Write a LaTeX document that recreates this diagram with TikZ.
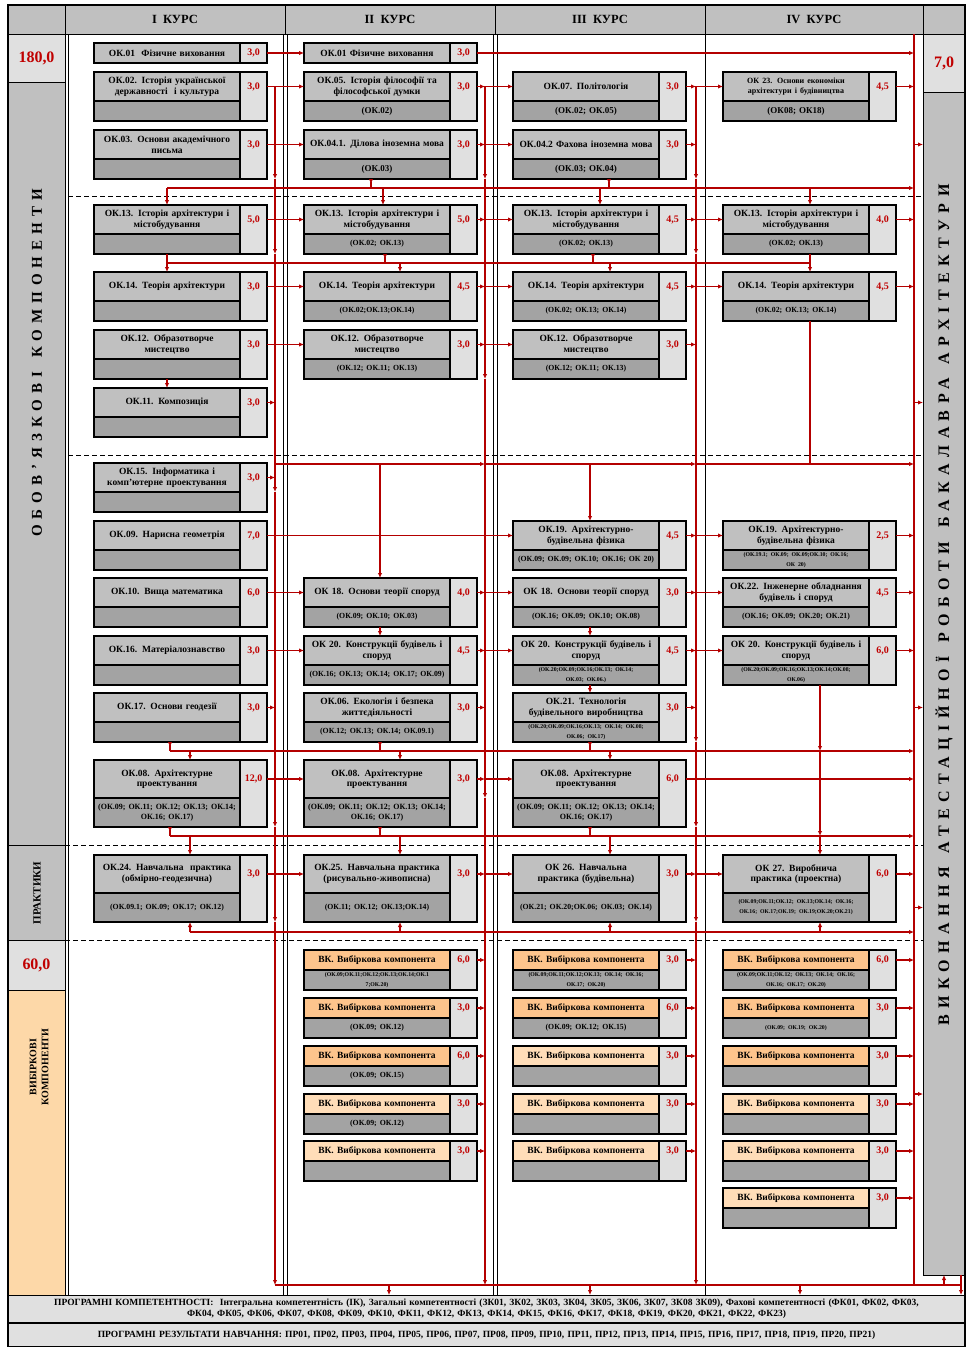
\documentclass[tikz,border=0pt]{standalone}
\usepackage{fontspec}
\setmainfont{Liberation Serif}
\usetikzlibrary{arrows.meta}

\definecolor{ttlgray}{HTML}{C0C0C0}
\definecolor{reqgray}{HTML}{A3A3A3}
\definecolor{crdgray}{HTML}{E0E0E0}
\definecolor{hdgray}{HTML}{C0C0C0}
\definecolor{vkdark}{HTML}{FDC48C}
\definecolor{vklight}{HTML}{FFDDB8}
\definecolor{peach}{HTML}{FDD8A8}
\definecolor{accred}{HTML}{C00000}
\definecolor{linered}{HTML}{B40000}

\newcommand{\reqbig}{\fontsize{8}{9}\selectfont}
\newcommand{\reqmid}{\fontsize{7.8}{8.8}\selectfont}
\newcommand{\reqsmall}{\fontsize{5.8}{6.4}\selectfont}

% one course box: title / prerequisites / credits
\newcommand{\okbox}[9][ttl]{%
  \node[#1, anchor=north west, minimum height=#5pt] (#2) at (#3,#4) {#7};
  \node[req, anchor=north west, minimum height=#6pt] (#2r) at (#2.south west) {#8};
  \node[crd, anchor=north west, minimum height=#5pt+#6pt] (#2c) at (#2.north east) {};
  \node[crtxt] (#2k) at (#2c.center |- #2.center) {#9};
  \coordinate (#2o) at (#2c.east |- #2.center);
}

\begin{document}
\begin{tikzpicture}[x=1pt, y=-1pt]
\tikzset{
  ttl/.style={draw, line width=1.1pt, fill=ttlgray, text width=140pt, align=center,
    inner xsep=3pt, inner ysep=0pt, outer sep=0pt, font=\fontsize{9.5}{10.5}\selectfont\bfseries},
  vkd/.style={ttl, fill=vkdark},
  vkl/.style={ttl, fill=vklight},
  req/.style={draw, line width=1.1pt, fill=reqgray, text width=140pt, align=center,
    inner xsep=3pt, inner ysep=0pt, outer sep=0pt, font=\fontsize{9}{10}\selectfont\bfseries},
  crd/.style={draw, line width=1.1pt, fill=crdgray, minimum width=27pt, inner sep=0pt, outer sep=0pt},
  crtxt/.style={text=accred, font=\fontsize{10}{12}\selectfont\bfseries, inner sep=0pt},
  boxcell/.style={draw, line width=1pt, inner sep=0pt, outer sep=0pt, anchor=north west},
  hd/.style={boxcell, fill=hdgray, font=\fontsize{12.5}{14}\selectfont\bfseries},
  sumcell/.style={boxcell, fill=crdgray, text=accred, font=\fontsize{16}{18}\selectfont\bfseries},
  vtext/.style={rotate=90, inner sep=0pt,
    font=\fontsize{15}{18}\selectfont\bfseries\addfontfeature{LetterSpace=40}},
  vtextwide/.style={rotate=90, inner sep=0pt,
    font=\fontsize{16}{18}\selectfont\bfseries\addfontfeature{LetterSpace=40}},
  colline/.style={line width=0.9pt},
  cutline/.style={line width=0.8pt, dash pattern=on 5pt off 3pt},
  redline/.style={draw=linered, line width=1.1pt},
  link/.style={redline, -{Latex[length=5pt,width=4.5pt]}},
  drop/.style={redline, {Latex[length=5pt,width=4.5pt,reversed]}-}
}
\useasboundingbox (0,0) rectangle (969,1347);
\fill[white] (0,0) rectangle (969,1347);

% --- header row ---
\node[hd, minimum width=57pt, minimum height=29pt] (h0) at (8,5) {};
\node[hd, minimum width=220pt, minimum height=29pt] (h1) at (65,5) {I\ \ КУРС};
\node[hd, minimum width=210pt, minimum height=29pt] (h2) at (285,5) {II\ \ КУРС};
\node[hd, minimum width=210pt, minimum height=29pt] (h3) at (495,5) {III\ \ КУРС};
\node[hd, minimum width=218pt, minimum height=29pt] (h4) at (705,5) {IV\ \ КУРС};
\node[hd, minimum width=42pt, minimum height=29pt] (h5) at (923,5) {};

% --- left column ---
\node[sumcell, minimum width=57pt, minimum height=48pt] (s180) at (8,34) {180,0};
\node[boxcell, fill=hdgray, minimum width=57pt, minimum height=763pt] (oblig) at (8,82) {};
\node[boxcell, fill=hdgray, minimum width=57pt, minimum height=95pt] (prac) at (8,845) {};
\node[sumcell, minimum width=57pt, minimum height=50pt] (s60) at (8,940) {60,0};
\node[boxcell, fill=peach, minimum width=57pt, minimum height=305pt] (elect) at (8,990) {};
\node[vtext] (obligt) at (37,363) {ОБОВ'ЯЗКОВІ\hspace{14pt}КОМПОНЕНТИ};
\node[rotate=90, inner sep=0pt, font=\fontsize{11}{12}\selectfont\bfseries] (pract) at (37,893) {ПРАКТИКИ};
\node[rotate=90, inner sep=0pt, align=center, font=\fontsize{10}{12}\selectfont\bfseries] (electt) at (39,1067) {ВИБІРКОВІ\\ КОМПОНЕНТИ};

% --- right column ---
\node[sumcell, minimum width=42pt, minimum height=58pt] (s7) at (923,34) {7,0};
\node[boxcell, fill=hdgray, minimum width=42pt, minimum height=1183pt] (atest) at (923,92) {};
\node[vtextwide] (atestt) at (944,605) {ВИКОНАННЯ\hspace{14pt}АТЕСТАЦІЙНОЇ\hspace{14pt}РОБОТИ\hspace{14pt}БАКАЛАВРА\hspace{14pt}АРХІТЕКТУРИ};

% --- bottom bands ---
\node[boxcell, fill=crdgray, minimum height=27pt, text width=945pt, inner xsep=6pt, align=center,
  font=\fontsize{9.5}{10.5}\selectfont\bfseries] (band1) at (8,1295)
  {ПРОГРАМНІ КОМПЕТЕНТНОСТІ:\ \ Інтегральна компетентність (ІК), Загальні компетентності (ЗК01, ЗК02, ЗК03, ЗК04, ЗК05, ЗК06, ЗК07, ЗК08 ЗК09), Фахові компетентності (ФК01, ФК02, ФК03,\\ ФК04, ФК05, ФК06, ФК07, ФК08, ФК09, ФК10, ФК11, ФК12, ФК13, ФК14, ФК15, ФК16, ФК17, ФК18, ФК19, ФК20, ФК21, ФК22, ФК23)};
\node[boxcell, fill=crdgray, minimum height=24pt, text width=945pt, inner xsep=6pt, align=center,
  font=\fontsize{9.5}{10.5}\selectfont\bfseries] (band2) at (8,1323)
  {ПРОГРАМНІ РЕЗУЛЬТАТИ НАВЧАННЯ: ПР01, ПР02, ПР03, ПР04, ПР05, ПР06, ПР07, ПР08, ПР09, ПР10, ПР11, ПР12, ПР13, ПР14, ПР15, ПР16, ПР17, ПР18, ПР19, ПР20, ПР21)};

% --- column rules and dashed separators ---
\draw[colline] (68,34) -- (68,1295);
\draw[colline] (283,34) -- (283,1295);
\draw[colline] (287,34) -- (287,1295);
\draw[colline] (493,34) -- (493,1295);
\draw[colline] (497,34) -- (497,1295);
\draw[colline] (705,34) -- (705,1295);
\draw[cutline] (68,196) -- (923,196);
\draw[cutline] (68,455) -- (923,455);
\draw[cutline] (65,845) -- (923,845);
\draw[cutline] (65,940) -- (923,940);

% --- I курс ---
\okbox{a01}{94}{43}{20}{0}{ОК.01\ \ Фізичне виховання}{}{3,0}
\okbox{a02}{94}{72}{29}{20}{ОК.02. Історія української\\ державності\ \ і культура}{}{3,0}
\okbox{a03}{94}{130}{29}{20}{ОК.03. Основи академічного\\ письма}{}{3,0}
\okbox{a13}{94}{205}{29}{20}{ОК.13. Історія архітектури і\\ містобудування}{}{5,0}
\okbox{a14}{94}{272}{29}{20}{ОК.14. Теорія архітектури}{}{3,0}
\okbox{a12}{94}{330}{29}{20}{ОК.12. Образотворче\\ мистецтво}{}{3,0}
\okbox{a11}{94}{388}{29}{20}{ОК.11. Композиція}{}{3,0}
\okbox{a15}{94}{463}{29}{20}{ОК.15. Інформатика і\\ комп'ютерне проектування}{}{3,0}
\okbox{a09}{94}{521}{29}{20}{ОК.09. Нарисна геометрія}{}{7,0}
\okbox{a10}{94}{578}{29}{20}{ОК.10. Вища математика}{}{6,0}
\okbox{a16}{94}{636}{29}{20}{ОК.16. Матеріалознавство}{}{3,0}
\okbox{a17}{94}{693}{29}{20}{ОК.17. Основи геодезії}{}{3,0}
\okbox{a08}{94}{760}{38}{29}{ОК.08. Архітектурне\\ проектування}{\reqbig(ОК.09; ОК.11; ОК.12; ОК.13; ОК.14;\\ ОК.16; ОК.17)}{12,0}
\okbox{a24}{94}{855}{38}{29}{ОК.24. Навчальна\ \ практика\\ (обмірно-геодезична)}{\reqmid(ОК.09.1; ОК.09; ОК.17; ОК.12)}{3,0}

% --- II курс ---
\okbox{b01}{304}{43}{20}{0}{ОК.01 Фізичне виховання}{}{3,0}
\okbox{b05}{304}{72}{29}{20}{ОК.05. Історія філософії та\\ філософської думки}{(ОК.02)}{3,0}
\okbox{b041}{304}{130}{29}{20}{ОК.04.1. Ділова іноземна мова}{(ОК.03)}{3,0}
\okbox{b13}{304}{205}{29}{20}{ОК.13. Історія архітектури і\\ містобудування}{\reqmid(ОК.02; ОК.13)}{5,0}
\okbox{b14}{304}{272}{29}{20}{ОК.14. Теорія архітектури}{\reqmid(ОК.02;ОК.13;ОК.14)}{4,5}
\okbox{b12}{304}{330}{29}{20}{ОК.12. Образотворче\\ мистецтво}{\reqmid(ОК.12; ОК.11; ОК.13)}{3,0}
\okbox{b18}{304}{578}{29}{20}{ОК 18. Основи теорії споруд}{\reqmid(ОК.09; ОК.10; ОК.03)}{4,0}
\okbox{b20}{304}{636}{29}{20}{ОК 20. Конструкції будівель і\\ споруд}{\reqmid(ОК.16; ОК.13; ОК.14; ОК.17; ОК.09)}{4,5}
\okbox{b06}{304}{693}{29}{20}{ОК.06. Екологія і безпека\\ життєдіяльності}{\reqmid(ОК.12; ОК.13; ОК.14; ОК.09.1)}{3,0}
\okbox{b08}{304}{760}{38}{29}{ОК.08. Архітектурне\\ проектування}{\reqbig(ОК.09; ОК.11; ОК.12; ОК.13; ОК.14;\\ ОК.16; ОК.17)}{3,0}
\okbox{b25}{304}{855}{38}{29}{ОК.25. Навчальна практика\\ (рисувально-живописна)}{\reqmid(ОК.11; ОК.12; ОК.13;ОК.14)}{3,0}
\okbox[vkd]{bv1}{304}{950}{20}{20}{ВК. Вибіркова компонента}{\reqsmall(ОК.09;ОК.11;ОК.12;ОК.13;ОК.14;ОК.1\\7;ОК.20)}{6,0}
\okbox[vkd]{bv2}{304}{998}{20}{20}{ВК. Вибіркова компонента}{\reqmid(ОК.09; ОК.12)}{3,0}
\okbox[vkd]{bv3}{304}{1046}{20}{20}{ВК. Вибіркова компонента}{\reqmid(ОК.09; ОК.15)}{6,0}
\okbox[vkl]{bv4}{304}{1094}{20}{20}{ВК. Вибіркова компонента}{\reqmid(ОК.09; ОК.12)}{3,0}
\okbox[vkl]{bv5}{304}{1141}{20}{20}{ВК. Вибіркова компонента}{}{3,0}

% --- III курс ---
\okbox{c07}{513}{72}{29}{20}{ОК.07. Політологія}{(ОК.02; ОК.05)}{3,0}
\okbox{c042}{513}{130}{29}{20}{ОК.04.2 Фахова іноземна мова}{(ОК.03; ОК.04)}{3,0}
\okbox{c13}{513}{205}{29}{20}{ОК.13. Історія архітектури і\\ містобудування}{\reqmid(ОК.02; ОК.13)}{4,5}
\okbox{c14}{513}{272}{29}{20}{ОК.14. Теорія архітектури}{\reqmid(ОК.02; ОК.13; ОК.14)}{4,5}
\okbox{c12}{513}{330}{29}{20}{ОК.12. Образотворче\\ мистецтво}{\reqmid(ОК.12; ОК.11; ОК.13)}{3,0}
\okbox{c19}{513}{521}{29}{20}{ОК.19. Архітектурно-\\ будівельна фізика}{\reqmid(ОК.09; ОК.09; ОК.10; ОК.16; ОК 20)}{4,5}
\okbox{c18}{513}{578}{29}{20}{ОК 18. Основи теорії споруд}{\reqmid(ОК.16; ОК.09; ОК.10; ОК.08)}{3,0}
\okbox{c20}{513}{636}{29}{20}{ОК 20. Конструкції будівель і\\ споруд}{\reqsmall(ОК.20;ОК.09;ОК.16;ОК.13; ОК.14;\\ ОК.03; ОК.06.)}{4,5}
\okbox{c21}{513}{693}{29}{20}{ОК.21. Технологія\\ будівельного виробництва}{\reqsmall(ОК.20;ОК.09;ОК.16;ОК.13; ОК.14; ОК.08;\\ ОК.06; ОК.17)}{3,0}
\okbox{c08}{513}{760}{38}{29}{ОК.08. Архітектурне\\ проектування}{\reqbig(ОК.09; ОК.11; ОК.12; ОК.13; ОК.14;\\ ОК.16; ОК.17)}{6,0}
\okbox{c26}{513}{855}{38}{29}{ОК 26. Навчальна\\ практика (будівельна)}{\reqmid(ОК.21; ОК.20;ОК.06; ОК.03; ОК.14)}{3,0}
\okbox[vkd]{cv1}{513}{950}{20}{20}{ВК. Вибіркова компонента}{\reqsmall(ОК.09;ОК.11;ОК.12;ОК.13; ОК.14; ОК.16;\\ ОК.17; ОК.20)}{3,0}
\okbox[vkd]{cv2}{513}{998}{20}{20}{ВК. Вибіркова компонента}{\reqmid(ОК.09; ОК.12; ОК.15)}{6,0}
\okbox[vkl]{cv3}{513}{1046}{20}{20}{ВК. Вибіркова компонента}{}{3,0}
\okbox[vkl]{cv4}{513}{1094}{20}{20}{ВК. Вибіркова компонента}{}{3,0}
\okbox[vkl]{cv5}{513}{1141}{20}{20}{ВК. Вибіркова компонента}{}{3,0}

% --- IV курс ---
\okbox{d23}{723}{72}{29}{20}{\fontsize{8}{9}\selectfont ОК 23. Основи економіки\\ архітектури і будівництва}{(ОК08; ОК18)}{4,5}
\okbox{d13}{723}{205}{29}{20}{ОК.13. Історія архітектури і\\ містобудування}{\reqmid(ОК.02; ОК.13)}{4,0}
\okbox{d14}{723}{272}{29}{20}{ОК.14. Теорія архітектури}{\reqmid(ОК.02; ОК.13; ОК.14)}{4,5}
\okbox{d19}{723}{521}{29}{20}{ОК.19. Архітектурно-\\ будівельна фізика}{\reqsmall(ОК.19.1; ОК.09; ОК.09;ОК.10; ОК.16;\\ ОК 20)}{2,5}
\okbox{d22}{723}{578}{29}{20}{ОК.22. Інженерне обладнання\\ будівель і споруд}{\reqmid(ОК.16; ОК.09; ОК.20; ОК.21)}{4,5}
\okbox{d20}{723}{636}{29}{20}{ОК 20. Конструкції будівель і\\ споруд}{\reqsmall(ОК.20;ОК.09;ОК.16;ОК.13;ОК.14;ОК.08;\\ ОК.06)}{6,0}
\okbox{d27}{723}{855}{38}{29}{ОК 27. Виробнича\\ практика (проектна)}{\reqsmall(ОК.09;ОК.11;ОК.12; ОК.13;ОК.14; ОК.16;\\ ОК.16; ОК.17;ОК.19; ОК.19;ОК.20;ОК.21)}{6,0}
\okbox[vkd]{dv1}{723}{950}{20}{20}{ВК. Вибіркова компонента}{\reqsmall(ОК.09;ОК.11;ОК.12; ОК.13; ОК.14; ОК.16;\\ ОК.16; ОК.17; ОК.20)}{6,0}
\okbox[vkd]{dv2}{723}{998}{20}{20}{ВК. Вибіркова компонента}{\reqsmall(ОК.09; ОК.19; ОК.20)}{3,0}
\okbox[vkd]{dv3}{723}{1046}{20}{20}{ВК. Вибіркова компонента}{}{3,0}
\okbox[vkl]{dv4}{723}{1094}{20}{20}{ВК. Вибіркова компонента}{}{3,0}
\okbox[vkl]{dv5}{723}{1141}{20}{20}{ВК. Вибіркова компонента}{}{3,0}
\okbox[vkl]{dv6}{723}{1188}{20}{20}{ВК. Вибіркова компонента}{}{3,0}

% --- buses and cross lines ---
\coordinate (busA) at (275,86);
\coordinate (busB) at (485,86);
\coordinate (busC) at (696,86);
\coordinate (busD) at (914,34);
\coordinate (L1) at (0,188);
\coordinate (L2) at (0,263);
\coordinate (L3) at (0,464);
\coordinate (L4) at (0,751);
\coordinate (L5) at (0,836);
\coordinate (L6) at (0,932);
\coordinate (L7) at (0,1285);

\draw[link] (busA) -- (a03r.south -| busA);
\draw[link] (a03r.south -| busA) -- (a13r.south -| busA);
\draw[link] (a13r.south -| busA) -- (a15r.north -| busA);
\draw[link] (a15r.north -| busA) -- (a08r.south -| busA);
\draw[link] (a08r.south -| busA) -- (a24r.south -| busA);
\draw[link] (a24r.south -| busA) -- (L7 -| busA);
\draw[link] (busB) -- (b041r.south -| busB);
\draw[link] (b041r.south -| busB) -- (b12r.south -| busB);
\draw[link] (b12r.south -| busB) -- (b08.south -| busB);
\draw[link] (b08.south -| busB) -- (L7 -| busB);
\draw[link] (busC) -- (c042r.south -| busC);
\draw[link] (c042r.south -| busC) -- (c13r.south -| busC);
\draw[link] (c13r.south -| busC) -- (c21r.south -| busC);
\draw[link] (c21r.south -| busC) -- (c08r.south -| busC);
\draw[link] (c08r.south -| busC) -- (c26r.south -| busC);
\draw[link] (c26r.south -| busC) -- (L7 -| busC);
\draw[redline] (busD) -- (L7 -| busD);

% row 1-3
\draw[link] (a01o) -- (b01.west);
\draw[link] (b01o) -- (b01o -| busD);
\draw[link] (a02o) -- (b05.west);
\draw[link] (b05o) -- (b05o -| busB);
\draw[link] (b05o -| busB) -- (c07.west);
\draw[link] (c07o) -- (c07o -| busC);
\draw[link] (c07o -| busC) -- (d23.west);
\draw[link] (d23o) -- (d23o -| busD);
\draw[link] (a03o) -- (b041.west);
\draw[link] (b041o) -- (b041o -| busB);
\draw[link] (b041o -| busB) -- (c042.west);
\draw[link] (c042o) -- (c042o -| busC);

% line under row 3
\draw[link] (a13.north |- L1) -- (L1 -| busD);
\draw[link] (a13.north |- L1) -- (a13.north);
\draw[drop] ([xshift=-6pt]b041r.south) -- ([xshift=-6pt]b041r.south |- L1);
\draw[link] ([xshift=6pt]b13.north |- L1) -- ([xshift=6pt]b13.north);
\draw[drop] ([xshift=23pt]c042r.south) -- ([xshift=23pt]c042r.south |- L1);
\draw[link] ([xshift=14pt]c13.north |- L1) -- ([xshift=14pt]c13.north);
\draw[link] ([xshift=14pt]d13.north |- L1) -- ([xshift=14pt]d13.north);

% row 4-5
\draw[link] (a13o) -- (b13.west);
\draw[link] (b13o) -- (b13o -| busB);
\draw[link] (b13o -| busB) -- (c13.west);
\draw[link] (c13o) -- (c13o -| busC);
\draw[link] (c13o -| busC) -- (d13.west);
\draw[link] (d13o) -- (d13o -| busD);
\draw[redline] (a13r.south) -- (a13r.south |- L2) -- ([xshift=14pt]d13r.south |- L2);
\draw[link] (a13r.south |- L2) -- (a14.north);
\draw[drop] ([xshift=8pt]b13r.south) -- ([xshift=8pt]b13r.south |- L2);
\draw[link] ([xshift=23pt]b14.north |- L2) -- ([xshift=23pt]b14.north);
\draw[drop] ([xshift=7pt]c13r.south) -- ([xshift=7pt]c13r.south |- L2);
\draw[link] ([xshift=24pt]c14.north |- L2) -- ([xshift=24pt]c14.north);
\draw[link] ([xshift=14pt]d13r.south) -- ([xshift=14pt]d14.north);
\draw[link] (a14o) -- (b14.west);
\draw[link] (b14o) -- (b14o -| busB);
\draw[link] (b14o -| busB) -- (c14.west);
\draw[link] (c14o) -- (c14o -| busC);
\draw[link] (c14o -| busC) -- (d14.west);
\draw[link] (d14o) -- (d14o -| busD);
\draw[redline] ([xshift=14pt]d14r.south) -- ([xshift=14pt]d14r.south |- L3);

% row 6-8
\draw[link] (a12o) -- (b12.west);
\draw[link] (b12o) -- (b12o -| busB);
\draw[link] (b12o -| busB) -- (c12.west);
\draw[link] (c12o) -- (c12o -| busC);
\draw[link] (a12r.south) -- (a11.north);
\draw[link] (a11o) -- (a11o -| busA);
\draw[link] (a15o) -- (a15o -| busA);

% line under the dashed rule
\draw[link] (L3 -| busA) -- (L3 -| busB);
\draw[link] (L3 -| busB) -- (L3 -| busC);
\draw[link] (L3 -| busC) -- (L3 -| busD);
\draw[link] ([xshift=3pt]b18.north |- L3) -- ([xshift=3pt]b18.north);
\draw[link] ([xshift=4pt]c19.north |- L3) -- ([xshift=4pt]c19.north);

% row 9-11
\draw[link] (a09o) -- (c19.west);
\draw[link] (c19o) -- (c19o -| busC);
\draw[link] (c19o -| busC) -- (d19.west);
\draw[link] (d19o) -- (d19o -| busD);
\draw[link] (a10o) -- (b18.west);
\draw[link] (b18o) -- (b18o -| busB);
\draw[link] (b18o -| busB) -- (c18.west);
\draw[link] (c18o) -- (c18o -| busC);
\draw[link] (c18o -| busC) -- (d22.west);
\draw[link] (d22o) -- (d22o -| busD);
\draw[link] ([xshift=3pt]b18r.south) -- ([xshift=3pt]b20.north);
\draw[link] ([xshift=4pt]c18r.south) -- ([xshift=4pt]c20.north);
\draw[link] (a16o) -- (b20.west);
\draw[link] (b20o) -- (b20o -| busB);
\draw[link] (b20o -| busB) -- (c20.west);
\draw[link] (c20o) -- (c20o -| busC);
\draw[link] (c20o -| busC) -- (d20.west);
\draw[link] (d20o) -- (d20o -| busD);
\draw[link] ([xshift=4pt]c20r.south) -- ([xshift=4pt]c21.north);
\draw[link] ([xshift=24pt]d20r.south) -- ([xshift=24pt]d20r.south |- L4);
\draw[link] ([xshift=24pt]d20r.south |- L4) -- ([xshift=24pt]d20r.south |- L5);
\draw[link] ([xshift=24pt]d20r.south |- L5) -- ([xshift=24pt]d27.north);

% row 12-13
\draw[link] (a17o) -- (a17o -| busA);
\draw[link] (b06o) -- (b06o -| busB);
\draw[link] (c21o) -- (c21o -| busC);
\draw[link] ([xshift=3pt]a17r.south |- L4) -- (L4 -| busD);
\draw[drop] ([xshift=3pt]a17r.south) -- ([xshift=3pt]a17r.south |- L4);
\draw[drop] ([xshift=3pt]b06r.south) -- ([xshift=3pt]b06r.south |- L4);
\draw[drop] ([xshift=4pt]c21r.south) -- ([xshift=4pt]c21r.south |- L4);
\draw[link] ([xshift=23pt]a08.north |- L4) -- ([xshift=23pt]a08.north);
\draw[link] ([xshift=23pt]b08.north |- L4) -- ([xshift=23pt]b08.north);
\draw[link] ([xshift=24pt]c08.north |- L4) -- ([xshift=24pt]c08.north);
\draw[link] (a08o) -- (b08.west);
\draw[link] (b08o) -- (b08o -| busB);
\draw[link] (b08o -| busB) -- (c08.west);
\draw[link] (c08o) -- (c08o -| busD);

% practices
\draw[link] ([xshift=3pt]a08r.south |- L5) -- (L5 -| busD);
\draw[drop] ([xshift=3pt]a08r.south) -- ([xshift=3pt]a08r.south |- L5);
\draw[drop] ([xshift=3pt]b08r.south) -- ([xshift=3pt]b08r.south |- L5);
\draw[drop] ([xshift=4pt]c08r.south) -- ([xshift=4pt]c08r.south |- L5);
\draw[link] ([xshift=23pt]a24.north |- L5) -- ([xshift=23pt]a24.north);
\draw[link] ([xshift=23pt]b25.north |- L5) -- ([xshift=23pt]b25.north);
\draw[link] ([xshift=24pt]c26.north |- L5) -- ([xshift=24pt]c26.north);
\draw[link] (a24o) -- (b25.west);
\draw[link] (b25o) -- (b25o -| busB);
\draw[link] (b25o -| busB) -- (c26.west);
\draw[link] (c26o) -- (c26o -| busC);
\draw[link] (c26o -| busC) -- (d27.west);
\draw[link] (d27o) -- (d27o -| busD);
\draw[link] ([xshift=23pt]a24r.south |- L6) -- (L6 -| busD);
\draw[link] ([xshift=23pt]a24r.south |- L6) -- ([xshift=23pt]a24r.south);
\draw[link] ([xshift=23pt]b25r.south |- L6) -- ([xshift=23pt]b25r.south);
\draw[link] ([xshift=24pt]c26r.south |- L6) -- ([xshift=24pt]c26r.south);
\draw[link] ([xshift=24pt]d27r.south |- L6) -- ([xshift=24pt]d27r.south);

% elective components
\draw[link] (bv1o) -- (bv1o -| busB);
\draw[link] (bv2o) -- (bv2o -| busB);
\draw[link] (bv3o) -- (bv3o -| busB);
\draw[link] (bv4o) -- (bv4o -| busB);
\draw[link] (bv5o) -- (bv5o -| busB);
\draw[link] (cv1o) -- (cv1o -| busC);
\draw[link] (cv2o) -- (cv2o -| busC);
\draw[link] (cv3o) -- (cv3o -| busC);
\draw[link] (cv4o) -- (cv4o -| busC);
\draw[link] (cv5o) -- (cv5o -| busC);
\draw[link] (dv1o) -- (dv1o -| busD);
\draw[link] (dv2o) -- (dv2o -| busD);
\draw[link] (dv3o) -- (dv3o -| busD);
\draw[link] (dv4o) -- (dv4o -| busD);
\draw[link] (dv5o) -- (dv5o -| busD);
\draw[link] (dv6o) -- (dv6o -| busD);

% into the attestation column and down to the bands
\draw[link] (c042.center -| busD) -- (c042.center -| atest.west);
\draw[link] (a11.center -| busD) -- (a11.center -| atest.west);
\draw[link] (c21.center -| busD) -- (c21.center -| atest.west);
\draw[link] (a24r.center -| busD) -- (a24r.center -| atest.west);
\draw[link] (dv4.north -| busD) -- (dv4.north -| atest.west);
\draw[redline] (L7 -| busA) -- ([xshift=-4pt]atest.south east |- L7);
\draw[link] (L7 -| atest.south) -- (atest.south);
\draw[link] ([xshift=-4pt]atest.south east) -- ([xshift=-4pt]atest.south east |- band1.north);
\draw[link] ([xshift=12pt]b08r.south |- L7) -- ([xshift=12pt]b08r.south |- band1.north);
\draw[link] ([xshift=4pt]c08r.south |- L7) -- ([xshift=4pt]c08r.south |- band1.north);
\draw[link] ([xshift=4pt]d27r.south |- L7) -- ([xshift=4pt]d27r.south |- band1.north);

% outer frame
\draw[line width=1.5pt] (h0.north west) rectangle (band2.south east);
\end{tikzpicture}
\end{document}
